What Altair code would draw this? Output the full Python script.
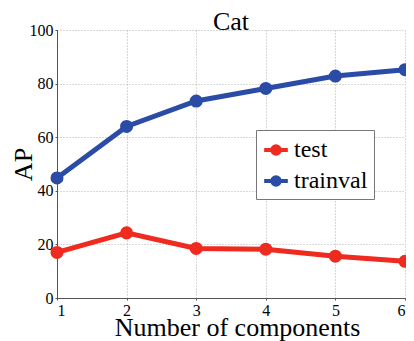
import altair as alt
import pandas as pd

components = [1, 2, 3, 4, 5, 6]
test_ap = [17.0, 24.3, 18.5, 18.2, 15.6, 13.7]
trainval_ap = [44.8, 64.0, 73.5, 78.2, 82.8, 85.2]
series = ["test", "trainval"]
colors = ["#ef2a1f", "#2a4ca6"]

rows = []
for name, vals in zip(series, [test_ap, trainval_ap]):
    for c, v in zip(components, vals):
        rows.append({"components": c, "AP": v, "series": name})
df = pd.DataFrame(rows)

serif = "Liberation Serif"

sym = "M-1,0L1,0M-0.32,0A0.32,0.32 0 1,1 0.32,0A0.32,0.32 0 1,1 -0.32,0Z"

chart = alt.Chart(df).mark_line(
    strokeWidth=5,
    point=alt.OverlayMarkDef(size=170, filled=True, opacity=1),
).encode(
    x=alt.X("components:Q", scale=alt.Scale(domain=[1, 6], nice=False),
            axis=alt.Axis(values=components, title="Number of components", format="d",
                          titleX=180, titleY=37, titleBaseline="alphabetic")),
    y=alt.Y("AP:Q", scale=alt.Scale(domain=[0, 100], nice=False),
            axis=alt.Axis(values=[0, 20, 40, 60, 80, 100], title="AP",
                          titleX=-26, titleY=134, titleBaseline="alphabetic")),
    color=alt.Color("series:N", scale=alt.Scale(domain=series, range=colors),
                    legend=alt.Legend(
                        title=None, orient="none", legendX=199, legendY=100,
                        strokeColor="#777777", fillColor="white", padding=6,
                        symbolType=sym, symbolSize=560, symbolStrokeWidth=4,
                        labelFont=serif, labelFontSize=24, labelColor="black",
                        rowPadding=5, labelOffset=4, symbolOffset=0,
                    )),
).properties(
    width=348, height=268,
    title=alt.TitleParams("Cat", font=serif, fontSize=26, fontWeight="normal", color="black",
                          offset=2, dy=15, frame="group"),
    padding={"left": 49, "top": 22, "right": 1, "bottom": 43},
    autosize=alt.AutoSizeParams(type="none"),
).configure_axis(
    labelFont=serif, labelFontSize=16, labelColor="black",
    titleFont=serif, titleFontSize=26, titleColor="black", titleFontWeight="normal",
    gridDash=[1, 2], gridColor="#b0b0b0", gridOpacity=1,
    domainColor="#555555", tickColor="#555555", tickSize=2, labelPadding=2,
).configure_view(stroke=None)

chart.save("out.html", embed_options={"renderer": "svg", "actions": False})
